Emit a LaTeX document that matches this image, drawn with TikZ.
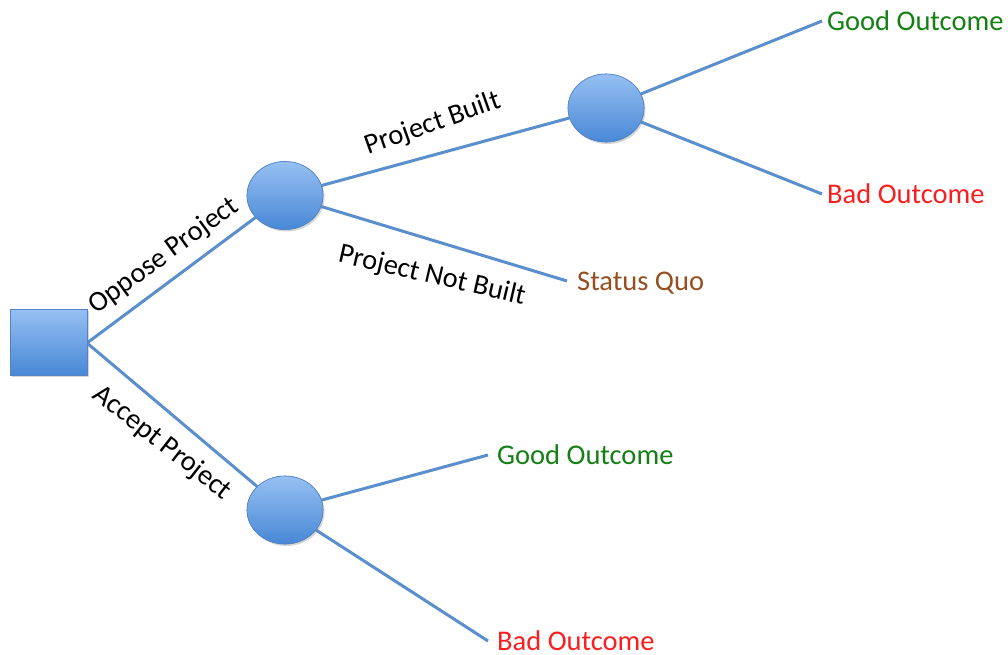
\documentclass[tikz,border=0pt]{standalone}
\usepackage{fontspec}
\setmainfont{Carlito}
\usetikzlibrary{shapes.geometric,shadows}
\definecolor{linec}{RGB}{90,142,204}
\definecolor{fillT}{RGB}{150,192,242}
\definecolor{fillB}{RGB}{72,136,214}
\definecolor{edgec}{RGB}{84,130,196}
\definecolor{goodc}{RGB}{20,128,20}
\definecolor{badc}{RGB}{250,30,30}
\definecolor{sqc}{RGB}{150,78,30}
\tikzset{
  conn/.style={draw=linec, line width=3pt},
  chance/.style={ellipse, minimum width=76pt, minimum height=68pt, inner sep=0pt,
    draw=edgec, line width=0.6pt, top color=fillT, bottom color=fillB,
    drop shadow={opacity=0.18, shadow xshift=1.5pt, shadow yshift=-2pt}},
  decision/.style={rectangle, minimum width=77pt, minimum height=66pt, inner sep=0pt,
    draw=edgec, line width=0.6pt, top color=fillT, bottom color=fillB,
    drop shadow={opacity=0.18, shadow xshift=1.5pt, shadow yshift=-2pt}},
  txt/.style={font=\fontsize{28.5}{34}\selectfont},
  outc/.style={txt, anchor=west, text height=19pt, text depth=0pt, inner ysep=0pt},
  lab/.style={txt, inner sep=0pt}
}
\begin{document}
\begin{tikzpicture}[x=1pt,y=-1pt]
\useasboundingbox (0,0) rectangle (1008,655);
% nodes
\node[decision] (sq) at (48.5,342) {};
\node[chance] (c1) at (285,195.5) {};
\node[chance] (c2) at (606,108) {};
\node[chance] (c3) at (285,510) {};
\node[outc, text=goodc, inner xsep=5pt] (g1) at (822,21) {Good Outcome};
\node[outc, text=badc, inner xsep=5pt] (b1) at (822,194) {Bad Outcome};
\node[outc, text=sqc, inner xsep=10pt] (sq1) at (567,281) {Status Quo};
\node[outc, text=goodc, inner xsep=9pt] (g2) at (488,455) {Good Outcome};
\node[outc, text=badc, inner xsep=9pt] (b2) at (488,641) {Bad Outcome};
% connectors
\coordinate (sqr) at (87,343);
\draw[conn] (sqr) -- (c1);
\draw[conn] (sqr) -- (c3);
\draw[conn] (c1) -- (c2);
\draw[conn] (c1) -- (sq1.west);
\draw[conn] (c2) -- (g1.west);
\draw[conn] (c2) -- (b1.west);
\draw[conn] (c3) -- (g2.west);
\draw[conn] (c3) -- (b2.west);
% redraw nodes on top
\node[decision] at (sq) {};
\node[chance] at (c1) {};
\node[chance] at (c2) {};
\node[chance] at (c3) {};
% labels
\node[lab, rotate=36] (lop) at (164,256) {Oppose Project};
\node[lab, rotate=-38] (lac) at (162,443) {Accept Project};
\node[lab, rotate=19.5] (lpb) at (433,124) {Project Built};
\node[lab, rotate=-13] (lpn) at (432,276) {Project Not Built};
\end{tikzpicture}
\end{document}
